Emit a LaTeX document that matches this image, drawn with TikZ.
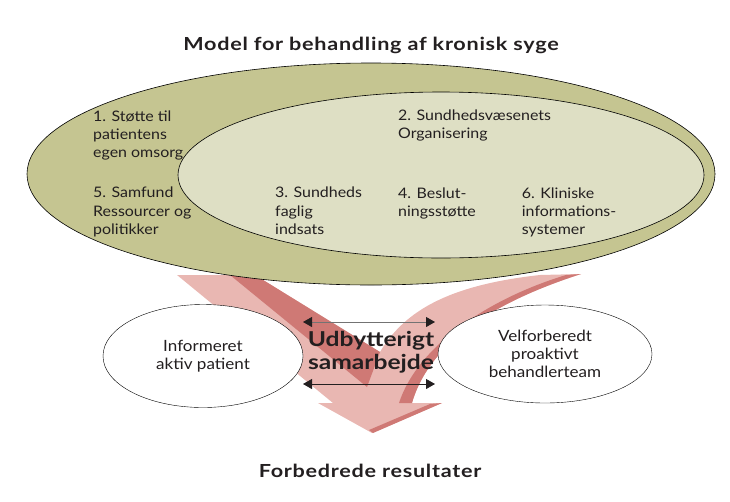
\documentclass[tikz,border=0pt]{standalone}
\usepackage{fontspec}
\setmainfont{Lato}[FakeStretch=1.1]
\newfontfamily\boldface{Lato}[FakeStretch=1.2]
\newfontfamily\titleface{Lato}[FakeStretch=1.2,LetterSpace=4]
\usetikzlibrary{shapes.geometric,arrows.meta}
\definecolor{olivefill}{RGB}{197,197,145}
\definecolor{palefill}{RGB}{222,223,196}
\definecolor{pinklight}{RGB}{233,183,178}
\definecolor{pinkdark}{RGB}{207,121,117}
\definecolor{ink}{RGB}{35,31,32}
\tikzset{
  box/.style={anchor=north west,align=left,inner sep=0pt,text=ink,font=\fontsize{14.5}{18.3}\selectfont},
  bubble/.style={ellipse,draw,fill=white,align=center,inner sep=0pt,text=ink,font=\fontsize{15.5}{18.3}\selectfont},
  heading/.style={anchor=base,inner sep=0pt,text=ink,font=\titleface\bfseries\fontsize{18}{22}\selectfont},
  twoway/.style={{Triangle[length=9pt,width=10pt,color=ink]}-{Triangle[length=9pt,width=10pt,color=ink]},line width=0.8pt}
}
\begin{document}
\begin{tikzpicture}[x=1pt,y=-1pt]
\useasboundingbox (0,0) rectangle (730,501);
\fill[pinklight] (177,275) -- (255,275) -- (380,352) .. controls (405,310) and (450,285) .. (540,275) -- (581,274) .. controls (500,300) and (430,340) .. (412,403) -- (442,403) -- (372,433) -- (318,403) -- (333,403) -- cycle;
\fill[pinkdark] (230,275) -- (255,275) -- (380,352) -- (367,387) -- cycle;
\fill[pinkdark] (566,275) -- (581,274) .. controls (500,300) and (430,340) .. (412,403) -- (399,403) .. controls (418,345) and (490,298) .. (566,275) -- cycle;
\fill[pinkdark] (442,403) -- (373,433) -- (369,430) -- (430,404) -- cycle;
\draw[line width=0.6pt,fill=olivefill] (371,174) ellipse [x radius=344pt, y radius=111pt];
\draw[line width=0.6pt,fill=palefill] (441,175) ellipse [x radius=263pt, y radius=83pt];
\node[heading] (title) at (371,50) {Model for behandling af kronisk syge};
\node[box] (selfcare) at (93,110.2) {1. Støtte til\\patientens\\egen omsorg};
\node[box] (society) at (93,187) {5. Samfund\\Ressourcer og\\politikker};
\node[box] (design) at (275,187) {3. Sundheds\\faglig\\indsats};
\node[box] (organisation) at (398,109.5) {2. Sundhedsvæsenets\\Organisering};
\node[box] (decision) at (398,187.4) {4. Beslut-\\ningsstøtte};
\node[box] (clinical) at (521.7,187.4) {6. Kliniske\\informations-\\systemer};
\node[bubble,minimum width=200pt,minimum height=103pt] (patient) at (203,356) {Informeret\\aktiv patient};
\node[bubble,minimum width=214pt,minimum height=98pt] (team) at (545,354) {Velforberedt\\proaktivt\\behandlerteam};
\node[inner sep=0pt,align=center,text=ink,font=\boldface\bfseries\fontsize{20.5}{22.6}\selectfont] (gain) at (371,352.4) {Udbytterigt\\samarbejde};
\coordinate (topL) at (303,322);
\coordinate (topR) at (435,322);
\coordinate (lowL) at (303,384);
\coordinate (lowR) at (435,384);
\draw[twoway,draw=black!55] (topL) -- (topR);
\draw[twoway,draw=ink] (lowL) -- (lowR);
\node[heading] (result) at (370,477.7) {Forbedrede resultater};
\end{tikzpicture}
\end{document}
